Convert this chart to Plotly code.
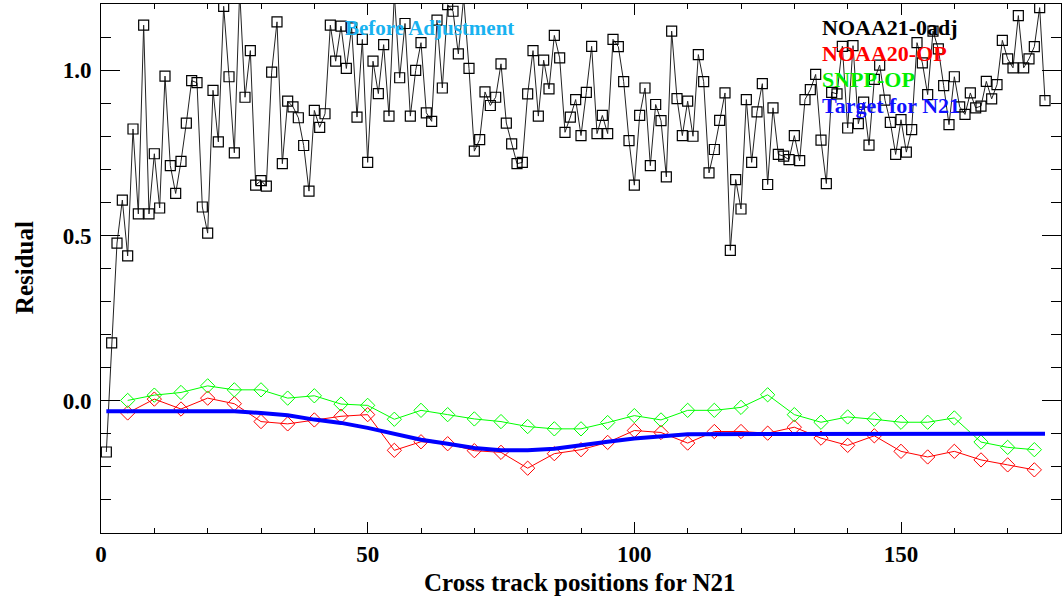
import plotly.graph_objects as go

# ---------------- data ----------------
n21_x = list(range(1, 178))
n21_y = [
    -0.155, 0.175, 0.477, 0.607, 0.438, 0.822, 0.565, 1.136, 0.565, 0.747,
    0.583, 0.982, 0.711, 0.627, 0.724, 0.840, 0.968, 0.962, 0.586, 0.507,
    0.939, 0.783, 1.193, 0.980, 0.750, 1.240, 0.918, 1.059, 0.652, 0.666,
    0.649, 0.994, 1.146, 0.717, 0.906, 0.889, 0.856, 0.772, 0.634, 0.878,
    0.827, 0.868, 1.136, 1.027, 1.133, 1.005, 1.128, 0.858, 1.093, 0.721,
    1.027, 0.929, 1.077, 0.861, 1.230, 0.977, 1.141, 0.861, 0.999, 1.083,
    0.871, 0.845, 1.151, 0.946, 1.198, 1.178, 1.049, 1.220, 1.005, 0.755,
    0.790, 0.934, 0.893, 0.918, 1.019, 0.840, 0.777, 0.717, 0.721, 0.928,
    1.059, 0.861, 1.030, 0.943, 1.105, 1.037, 0.812, 0.858, 0.911, 0.802,
    0.933, 1.072, 0.808, 0.863, 0.808, 1.093, 1.071, 0.965, 0.787, 0.652,
    0.863, 0.946, 0.711, 0.896, 0.847, 0.677, 1.118, 0.914, 0.802, 0.906,
    0.800, 1.047, 0.965, 0.689, 0.760, 0.848, 0.931, 0.455, 0.669, 0.580,
    0.911, 0.721, 0.874, 0.959, 0.654, 0.886, 0.745, 0.740, 0.729, 0.802,
    0.726, 0.911, 0.941, 0.987, 0.788, 0.657, 0.933, 0.928, 1.072, 0.825,
    1.074, 0.838, 0.903, 0.773, 0.972, 1.015, 0.909, 0.842, 0.745, 0.850,
    0.752, 0.820, 1.083, 1.022, 0.926, 1.118, 1.064, 0.953, 0.835, 0.980,
    0.889, 0.866, 0.931, 0.886, 0.891, 0.966, 0.913, 0.956, 1.090, 1.034,
    1.007, 1.165, 1.007, 1.034, 1.071, 1.189, 0.908,
]

op_x = list(range(5, 180, 5))
n20_y = [
    -0.037, 0.005, -0.025, 0.008, -0.009, -0.063, -0.070, -0.058, -0.047, -0.042,
    -0.150, -0.124, -0.130, -0.151, -0.156, -0.204, -0.160, -0.148, -0.126, -0.090,
    -0.096, -0.128, -0.093, -0.093, -0.098, -0.080, -0.113, -0.135, -0.106, -0.153,
    -0.170, -0.153, -0.179, -0.194, -0.209,
]
snpp_y = [
    0.001, 0.017, 0.025, 0.045, 0.033, 0.033, 0.008, 0.015, -0.010, -0.014,
    -0.056, -0.029, -0.042, -0.055, -0.063, -0.078, -0.085, -0.085, -0.066, -0.045,
    -0.058, -0.029, -0.029, -0.020, 0.018, -0.042, -0.065, -0.049, -0.056, -0.065,
    -0.065, -0.052, -0.125, -0.141, -0.148,
]

target_x = [1, 25, 30, 35, 40, 45, 50, 55, 60, 65, 70, 75, 80, 85, 90, 95, 100, 105, 110, 177]
target_y = [-0.032, -0.032, -0.037, -0.044, -0.057, -0.067, -0.082, -0.100, -0.118, -0.130,
            -0.143, -0.150, -0.150, -0.145, -0.136, -0.124, -0.114, -0.107, -0.101, -0.100]

x_ticks = [0, 50, 100, 150]
y_ticks = [0.0, 0.5, 1.0]
y_tick_text = ["0.0", "0.5", "1.0"]

labels = ["NOAA21-0adj", "NOAA20-OP", "SNPP-OP", "Target for N21"]
label_colors = ["#000000", "#ff0000", "#00ee00", "#1010ff"]

# ---------------- figure ----------------
SERIF = "Liberation Serif, Times New Roman, serif"

fig = go.Figure()
fig.add_trace(go.Scatter(
    x=n21_x, y=n21_y, mode="lines+markers",
    line=dict(color="#222222", width=1),
    marker=dict(symbol="square-open", size=10, color="#000000", line=dict(width=1.2)),
))
fig.add_trace(go.Scatter(
    x=op_x, y=n20_y, mode="lines+markers",
    line=dict(color="#ff0000", width=1),
    marker=dict(symbol="diamond-open", size=11, color="#ff0000", line=dict(width=1)),
))
fig.add_trace(go.Scatter(
    x=op_x, y=snpp_y, mode="lines+markers",
    line=dict(color="#00ff00", width=1),
    marker=dict(symbol="diamond-open", size=11, color="#00ff00", line=dict(width=1)),
))
fig.add_trace(go.Scatter(
    x=target_x, y=target_y, mode="lines",
    line=dict(color="#0000ff", width=4),
))

annotations = [dict(
    text="<b>Before Adjustment</b>", xref="paper", yref="paper",
    x=0.252, y=0.955, xanchor="left", yanchor="middle", showarrow=False,
    font=dict(family=SERIF, size=21, color="#18b2f0"),
)]
label_y = [0.955, 0.906, 0.857, 0.808]
for lab, col, ly in zip(labels, label_colors, label_y):
    annotations.append(dict(
        text="<b>" + lab + "</b>", xref="paper", yref="paper",
        x=0.749, y=ly, xanchor="left", yanchor="middle", showarrow=False,
        font=dict(family=SERIF, size=22, color=col),
    ))
# axis titles
annotations.append(dict(
    text="<b>Cross track positions for N21</b>", xref="paper", yref="paper",
    x=0.499, y=-0.0945, xanchor="center", yanchor="middle", showarrow=False,
    font=dict(family=SERIF, size=25, color="black"),
))
annotations.append(dict(
    text="<b>Residual</b>", xref="paper", yref="paper", textangle=-90,
    x=-0.079, y=0.501, xanchor="center", yanchor="middle", showarrow=False,
    font=dict(family=SERIF, size=25, color="black"),
))

fig.update_layout(
    width=1063, height=598, autosize=False,
    margin=dict(l=101, r=2, t=4, b=65, autoexpand=False),
    paper_bgcolor="white", plot_bgcolor="white",
    showlegend=False,
    annotations=annotations,
    font=dict(family=SERIF, color="black"),
)
fig.update_xaxes(
    range=[0, 180], showgrid=False, zeroline=False, automargin=False,
    showline=True, linecolor="black", linewidth=1, mirror="allticks",
    ticks="inside", ticklen=11, tickcolor="black", tickwidth=1,
    tickvals=x_ticks, ticktext=["<b>%d</b>" % v for v in x_ticks],
    tickfont=dict(family=SERIF, size=23, color="black"),
    ticklabelstandoff=0,
    minor=dict(ticks="inside", ticklen=5, dtick=10, tick0=0, tickcolor="black", showgrid=False),
)
fig.update_yaxes(
    range=[-0.4, 1.2], showgrid=False, zeroline=False, automargin=False,
    showline=True, linecolor="black", linewidth=1, mirror="allticks",
    ticks="inside", ticklen=19, tickcolor="black", tickwidth=1,
    tickvals=y_ticks, ticktext=["<b>%s</b>" % t for t in y_tick_text],
    tickfont=dict(family=SERIF, size=23, color="black"),
    ticklabelstandoff=4,
    minor=dict(ticks="inside", ticklen=10, dtick=0.1, tick0=0, tickcolor="black", showgrid=False),
)

post = (
    "document.body.style.margin='0px';"
    "document.body.style.padding='0px';"
    "document.body.style.overflow='hidden';"
    "var gd=document.getElementById('{plot_id}');"
    "Plotly.relayout(gd,{width:1063,height:598});"
)

fig.write_html("out.html", config={"responsive": False, "displayModeBar": False}, post_script=post)
